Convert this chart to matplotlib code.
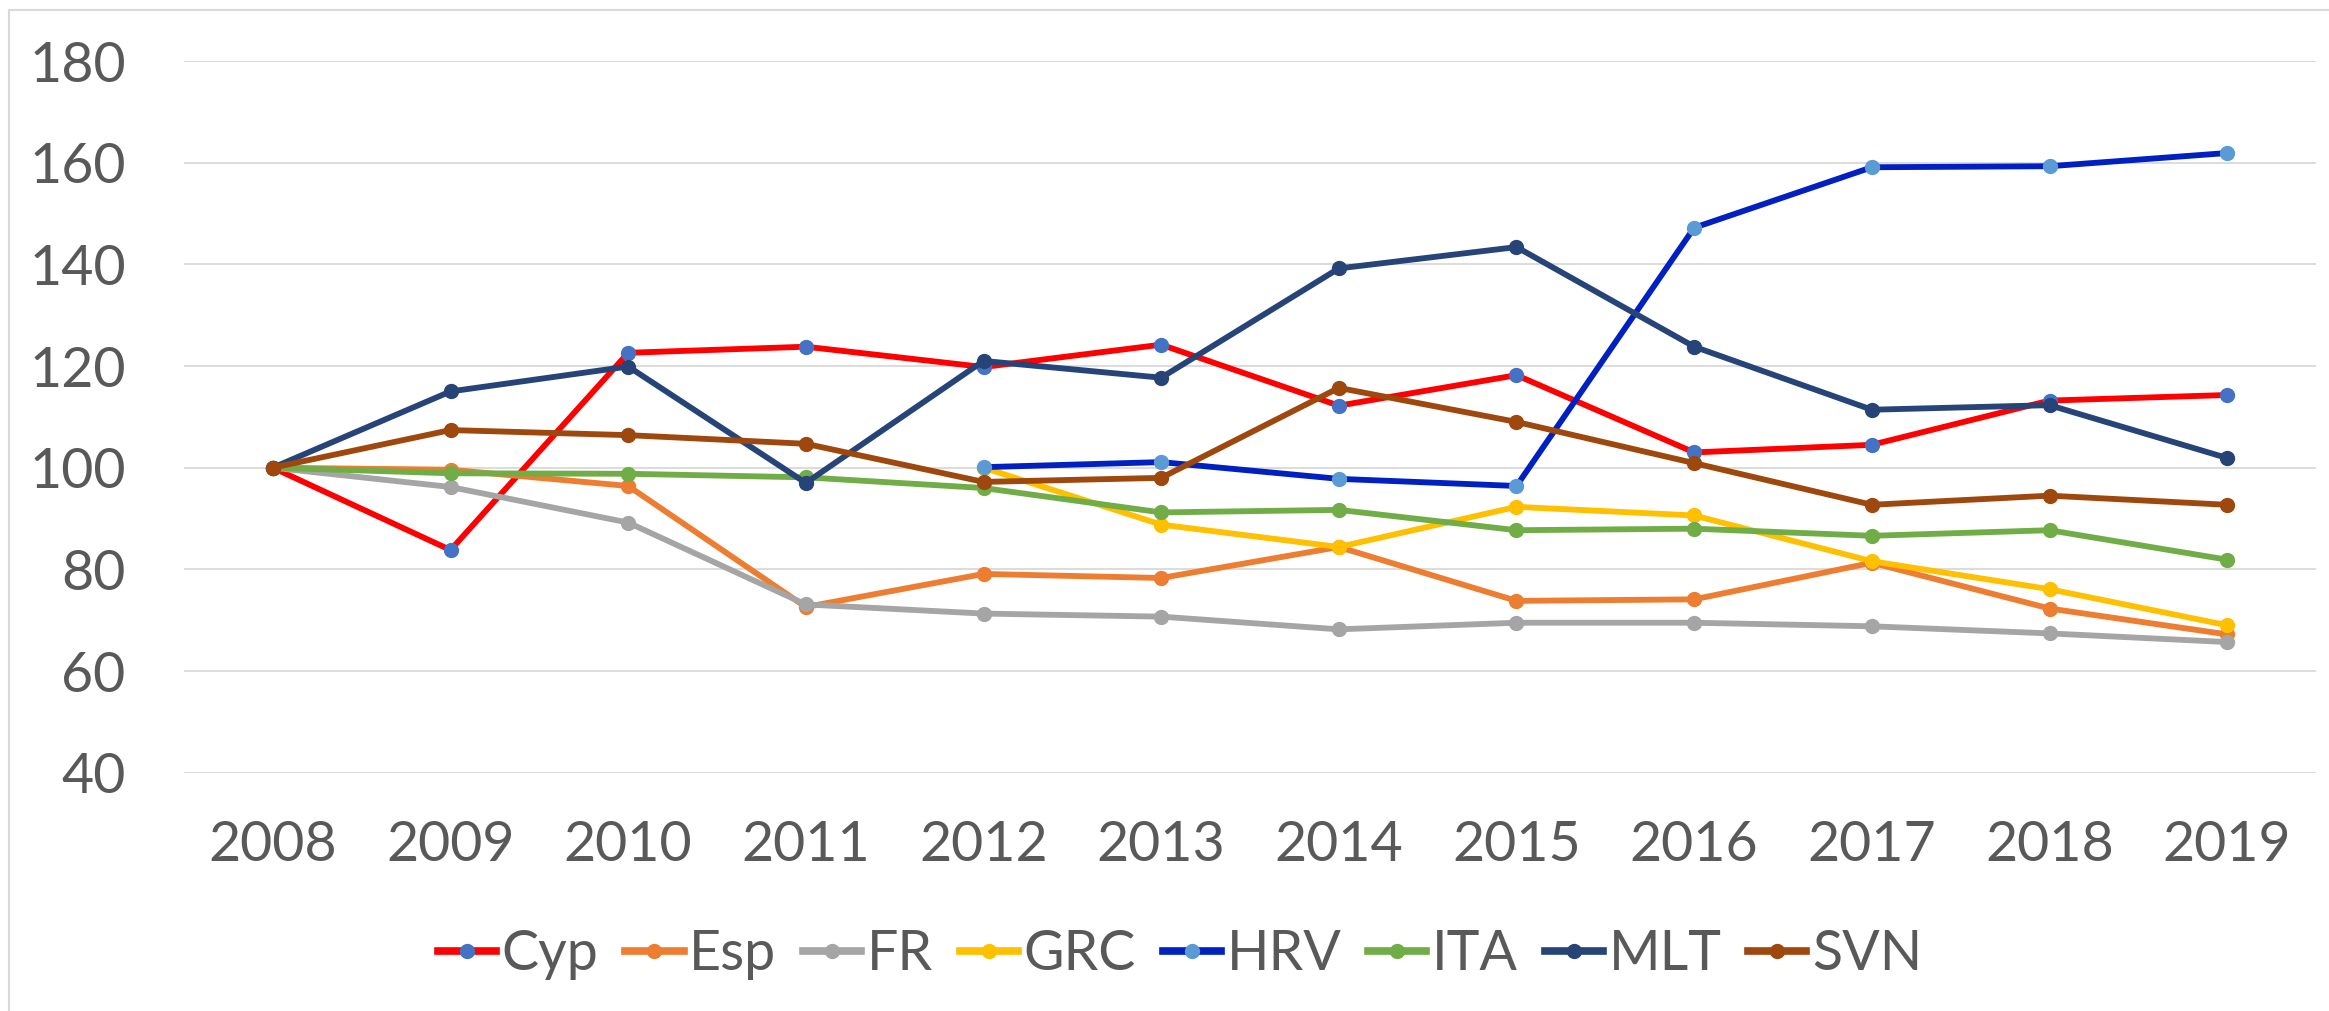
import matplotlib
matplotlib.use("Agg")
import matplotlib.pyplot as plt
from matplotlib.lines import Line2D
from matplotlib.patches import Rectangle

years = ["2008", "2009", "2010", "2011", "2012", "2013", "2014", "2015", "2016", "2017", "2018", "2019"]
yticks = [40, 60, 80, 100, 120, 140, 160, 180]

cyp = [100, 83.8, 122.6, 123.8, 119.8, 124.2, 112.2, 118.2, 103.0, 104.5, 113.2, 114.3]
esp = [100, 99.6, 96.4, 72.6, 79.1, 78.3, 84.4, 73.8, 74.1, 81.3, 72.3, 67.2]
fr = [100, 96.2, 89.2, 73.1, 71.3, 70.7, 68.2, 69.5, 69.5, 68.8, 67.4, 65.7]
grc = [None, None, None, None, 100, 88.8, 84.4, 92.3, 90.6, 81.6, 76.1, 69.0]
hrv = [None, None, None, None, 100.1, 101.1, 97.8, 96.4, 147.2, 159.1, 159.3, 161.9]
ita = [100, 98.9, 98.8, 98.1, 96.0, 91.2, 91.7, 87.7, 88.0, 86.6, 87.7, 81.9]
mlt = [100, 115.0, 119.9, 97.0, 121.0, 117.7, 139.2, 143.4, 123.8, 111.4, 112.3, 101.9]
svn = [100, 107.4, 106.4, 104.7, 97.2, 98.0, 115.7, 109.0, 100.9, 92.7, 94.5, 92.7]

names = ["Cyp", "Esp", "FR", "GRC", "HRV", "ITA", "MLT", "SVN"]
series = [cyp, esp, fr, grc, hrv, ita, mlt, svn]
line_colors = ["#FF0000", "#ED7D31", "#A5A5A5", "#FFC000", "#0020C2", "#70AD47", "#264478", "#9E480E"]
marker_colors = ["#4472C4", "#ED7D31", "#A5A5A5", "#FFC000", "#5B9BD5", "#70AD47", "#264478", "#9E480E"]

plt.rcParams['font.family'] = ['Lato', 'DejaVu Sans']
W, H = 2329, 1011
fig = plt.figure(figsize=(W / 100, H / 100), dpi=100)
ax = fig.add_axes([184 / W, 1 - 772.7 / H, (2316 - 184) / W, (772.7 - 61) / H])

x = list(range(len(years)))
for name, vals, lc, mc in zip(names, series, line_colors, marker_colors):
    xs = [xi for xi, v in zip(x, vals) if v is not None]
    ys = [v for v in vals if v is not None]
    ax.plot(xs, ys, color=lc, lw=4.2, marker='o', markersize=10,
            markerfacecolor=mc, markeredgecolor=mc, label=name,
            solid_joinstyle='round', solid_capstyle='round')

ax.set_xlim(-0.5, len(years) - 0.5)
ax.set_ylim(40, 180)
ax.set_yticks(yticks)
ax.set_xticks(x)
ax.set_xticklabels(years)
ax.grid(axis='y', color='#D9D9D9', lw=1.3)
ax.set_axisbelow(True)
for s in ax.spines.values():
    s.set_visible(False)
ax.tick_params(axis='both', length=0, labelsize=40, labelcolor='#595959')
ax.tick_params(axis='y', pad=42)
ax.tick_params(axis='x', pad=34)

leg_handles = [Line2D([0], [0], color=lc, lw=5.5, marker='o', markersize=10,
                      markerfacecolor=mc, markeredgecolor=mc)
               for lc, mc in zip(line_colors, marker_colors)]
leg = fig.legend(leg_handles, names, loc='center', bbox_to_anchor=(1180 / W, 1 - 955 / H),
                 ncol=8, frameon=False, fontsize=40, handlelength=1.05, handletextpad=0.1,
                 columnspacing=0.48, labelcolor='#595959')

fig.patches.append(Rectangle((9 / W, -0.1), 1.2, 1 - 10 / H + 0.1, transform=fig.transFigure,
                             fill=False, edgecolor='#D9D9D9', lw=1.5))

fig.savefig("out.png", dpi=100)
